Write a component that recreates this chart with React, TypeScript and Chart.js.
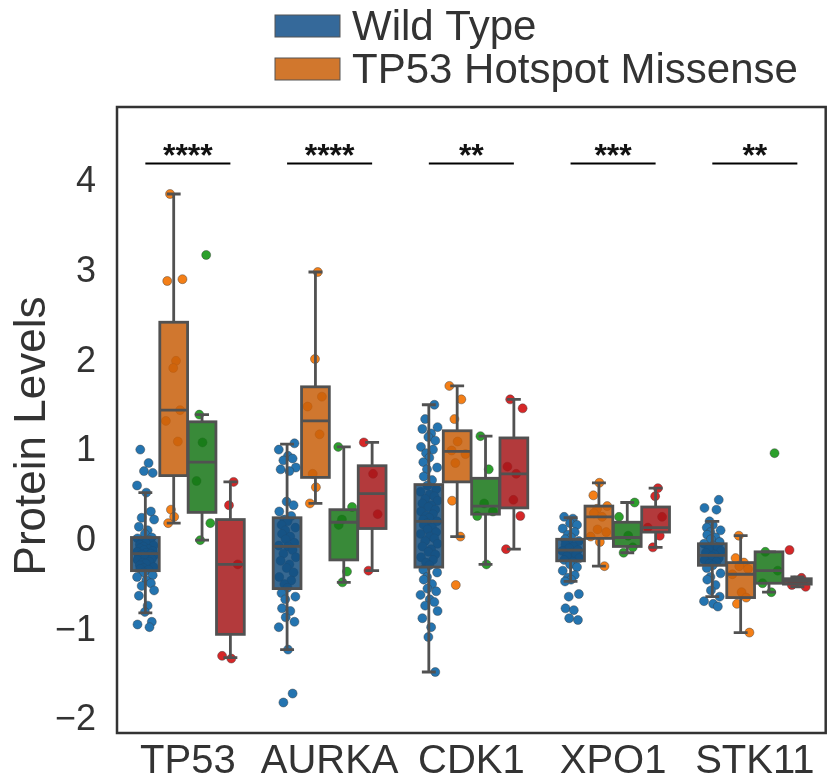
import React, { useEffect, useRef } from 'react';
import { Chart, registerables } from 'chart.js';

Chart.register(...registerables);

// ---------- data ----------
const GENES = ['TP53', 'AURKA', 'CDK1', 'XPO1', 'STK11'];
const LEGEND_LABELS = ['Wild Type', 'TP53 Hotspot Missense'];
const Y_TITLE = 'Protein Levels';
const SIG_LABELS = ['****', '****', '**', '***', '**'];
const SIG_LEVEL = 4.21;
const Y_TICKS = [-2, -1, 0, 1, 2, 3, 4];

// box statistics (per gene): lower whisker, Q1, median, Q3, upper whisker
const WT_LO = [-0.80, -1.21, -1.46, -0.45, -0.62];
const WT_Q1 = [-0.33, -0.53, -0.29, -0.22, -0.27];
const WT_MED = [-0.14, -0.06, 0.22, -0.10, -0.16];
const WT_Q3 = [0.04, 0.26, 0.63, 0.02, -0.03];
const WT_HI = [0.54, 1.08, 1.52, 0.26, 0.22];

const HS_LO = [0.20, 0.42, 0.05, -0.28, -1.02];
const HS_Q1 = [0.73, 0.71, 0.66, 0.03, -0.63];
const HS_MED = [1.46, 1.34, 1.00, 0.27, -0.37];
const HS_Q3 = [2.44, 1.72, 1.23, 0.39, -0.24];
const HS_HI = [3.87, 3.00, 1.73, 0.65, 0.06];

const G3_LO = [0.01, -0.46, -0.26, -0.13, -0.57];
const G3_Q1 = [0.32, -0.21, 0.30, -0.06, -0.47];
const G3_MED = [0.88, 0.21, 0.39, 0.04, -0.33];
const G3_Q3 = [1.33, 0.35, 0.70, 0.21, -0.12];
const G3_HI = [1.41, 1.05, 1.17, 0.43, -0.12];

const G4_LO = [-1.30, -0.33, -0.09, -0.07, -0.51];
const G4_Q1 = [-1.04, 0.14, 0.37, 0.10, -0.48];
const G4_MED = [-0.26, 0.53, 0.75, 0.15, -0.45];
const G4_Q3 = [0.24, 0.84, 1.15, 0.38, -0.42];
const G4_HI = [0.66, 1.10, 1.58, 0.59, -0.40];

// individual samples (per gene)
const WT_POINTS = [
  [1.02, 0.87, 0.78, 0.76, 0.62, 0.54, 0.33, 0.26, 0.24, 0.16, 0.12, 0.08, 0.04, 0.03, 0.01, -0.01, -0.02,
    -0.04, -0.05, -0.06, -0.08, -0.09, -0.10, -0.11, -0.12, -0.13, -0.14, -0.15, -0.16, -0.17, -0.18, -0.19,
    -0.20, -0.21, -0.23, -0.24, -0.25, -0.27, -0.29, -0.30, -0.31, -0.32, -0.35, -0.38, -0.40, -0.44, -0.47,
    -0.50, -0.55, -0.61, -0.72, -0.79, -0.90, -0.93, -0.96],
  [1.09, 1.02, 0.95, 0.92, 0.90, 0.82, 0.80, 0.78, 0.44, 0.40, 0.33, 0.28, 0.24, 0.22, 0.18, 0.15, 0.12,
    0.08, 0.05, 0.02, -0.02, -0.05, -0.06, -0.10, -0.14, -0.18, -0.22, -0.26, -0.30, -0.35, -0.40, -0.44,
    -0.48, -0.52, -0.58, -0.62, -0.65, -0.75, -0.78, -0.85, -0.90, -0.96, -1.21, -1.70, -1.80],
  [1.52, 1.36, 1.27, 1.25, 1.20, 1.16, 1.12, 1.05, 1.02, 0.98, 0.93, 0.88, 0.82, 0.80, 0.72, 0.68, 0.62,
    0.58, 0.55, 0.52, 0.50, 0.47, 0.45, 0.42, 0.40, 0.38, 0.35, 0.33, 0.30, 0.28, 0.26, 0.24, 0.22, 0.20,
    0.18, 0.15, 0.13, 0.10, 0.08, 0.05, 0.03, 0.00, -0.03, -0.06, -0.09, -0.12, -0.15, -0.18, -0.21, -0.24,
    -0.27, -0.32, -0.35, -0.40, -0.43, -0.48, -0.53, -0.56, -0.60, -0.65, -0.68, -0.72, -0.78, -0.86, -0.96,
    -1.07, -1.46],
  [0.27, 0.25, 0.20, 0.18, 0.14, 0.10, 0.07, 0.04, 0.02, 0.00, -0.02, -0.04, -0.06, -0.08, -0.10, -0.11,
    -0.13, -0.15, -0.17, -0.19, -0.21, -0.23, -0.26, -0.29, -0.33, -0.38, -0.41, -0.43, -0.45, -0.59, -0.62,
    -0.75, -0.77, -0.86, -0.88],
  [0.46, 0.37, 0.35, 0.22, 0.18, 0.15, 0.12, 0.10, 0.07, 0.04, 0.02, -0.01, -0.03, -0.05, -0.07, -0.09,
    -0.11, -0.13, -0.15, -0.17, -0.19, -0.21, -0.23, -0.25, -0.27, -0.30, -0.36, -0.40, -0.43, -0.49, -0.55,
    -0.62, -0.67, -0.70, -0.73],
];
const HS_POINTS = [
  [3.87, 2.92, 2.90, 2.01, 1.93, 1.46, 1.34, 1.11, 0.35, 0.27, 0.20],
  [3.00, 2.03, 1.61, 1.50, 1.19, 0.75, 0.60, 0.42],
  [1.73, 1.58, 1.36, 1.11, 1.01, 0.97, 0.87, 0.45, 0.05, -0.49],
  [0.65, 0.51, 0.39, 0.36, 0.31, 0.27, 0.13, 0.10, 0.05, -0.01, -0.28],
  [0.06, -0.19, -0.24, -0.28, -0.31, -0.37, -0.57, -0.63, -0.70, -1.02],
];
const G3_POINTS = [
  [3.19, 1.41, 1.10, 0.67, 0.20, 0.01],
  [1.05, 0.38, 0.24, 0.18, -0.34, -0.46],
  [1.17, 0.80, 0.42, 0.33, 0.28, -0.26],
  [0.43, 0.27, 0.06, -0.07, -0.13],
  [0.98, -0.12, -0.33, -0.47, -0.57],
];
const G4_POINTS = [
  [0.66, 0.40, -0.26, -1.28, -1.31],
  [1.10, 0.75, 0.30, -0.33],
  [1.58, 1.48, 0.83, 0.75, 0.46, 0.28, -0.09],
  [0.59, 0.50, 0.27, 0.15, 0.06, -0.07],
  [-0.10, -0.41, -0.44, -0.46, -0.49, -0.51],
];

// ---------- styles ----------
const OFFSETS = [-0.3, -0.1, 0.1, 0.3];
const BOX_W = 0.196;
const JITTER_W = 0.065;
const JITTER = [-0.55, 0.35, -0.15, 0.8, -0.9, 0.1, 0.6, -0.4, 0.95, -0.7, 0.25, -0.05, 0.7, -0.85, 0.45, -0.3, 0.05, -0.6, 0.9, -0.2];
const BOX_FILL = ['rgba(20,78,126,0.85)', 'rgba(200,95,10,0.85)', 'rgba(22,118,22,0.85)', 'rgba(166,24,26,0.85)'];
const POINT_FILL = ['#2474b0', '#f47f17', '#2ca02c', '#d62728'];
const LEGEND_FILL = ['#35699a', '#d1772d'];
const LINE_COLOR = '#515151';
const TEXT_COLOR = '#333333';
const FONT = '"Liberation Sans", Arial, Helvetica, sans-serif';

const GROUP_STATS = [
  [WT_LO, WT_Q1, WT_MED, WT_Q3, WT_HI],
  [HS_LO, HS_Q1, HS_MED, HS_Q3, HS_HI],
  [G3_LO, G3_Q1, G3_MED, G3_Q3, G3_HI],
  [G4_LO, G4_Q1, G4_MED, G4_Q3, G4_HI],
];
const GROUP_POINTS = [WT_POINTS, HS_POINTS, G3_POINTS, G4_POINTS];

const boxPlugin = {
  id: 'boxes',
  afterDatasetsDraw(chart: any) {
    const { ctx, scales } = chart;
    const x = scales.x;
    const y = scales.y;
    const unit = x.getPixelForValue(1) - x.getPixelForValue(0);
    const half = (BOX_W * unit) / 2;
    const capHalf = half / 2;
    ctx.save();
    GROUP_STATS.forEach((stats, gi) => {
      const [lo, q1, med, q3, hi] = stats;
      GENES.forEach((_, ci) => {
        const cx = x.getPixelForValue(ci + OFFSETS[gi]);
        const pLo = y.getPixelForValue(lo[ci]);
        const pQ1 = y.getPixelForValue(q1[ci]);
        const pMed = y.getPixelForValue(med[ci]);
        const pQ3 = y.getPixelForValue(q3[ci]);
        const pHi = y.getPixelForValue(hi[ci]);
        ctx.fillStyle = BOX_FILL[gi];
        ctx.fillRect(cx - half, pQ3, 2 * half, pQ1 - pQ3);
        ctx.strokeStyle = LINE_COLOR;
        ctx.lineWidth = 2.8;
        ctx.lineCap = 'butt';
        ctx.strokeRect(cx - half, pQ3, 2 * half, pQ1 - pQ3);
        ctx.beginPath();
        ctx.moveTo(cx - half, pMed);
        ctx.lineTo(cx + half, pMed);
        ctx.moveTo(cx, pQ3);
        ctx.lineTo(cx, pHi);
        ctx.moveTo(cx, pQ1);
        ctx.lineTo(cx, pLo);
        ctx.moveTo(cx - capHalf, pHi);
        ctx.lineTo(cx + capHalf, pHi);
        ctx.moveTo(cx - capHalf, pLo);
        ctx.lineTo(cx + capHalf, pLo);
        ctx.stroke();
      });
    });
    ctx.restore();
  },
  afterDraw(chart: any) {
    const { ctx, scales, chartArea } = chart;
    const x = scales.x;
    const y = scales.y;
    ctx.save();
    // frame
    ctx.strokeStyle = '#333333';
    ctx.lineWidth = 2.5;
    ctx.strokeRect(chartArea.left, chartArea.top, chartArea.right - chartArea.left, chartArea.bottom - chartArea.top);
    // significance brackets
    const ly = y.getPixelForValue(SIG_LEVEL);
    ctx.strokeStyle = '#000000';
    ctx.lineWidth = 1.8;
    ctx.fillStyle = '#111111';
    ctx.font = `bold 32px ${FONT}`;
    ctx.textAlign = 'center';
    ctx.textBaseline = 'alphabetic';
    SIG_LABELS.forEach((lab, ci) => {
      const x0 = x.getPixelForValue(ci + OFFSETS[0]);
      const x1 = x.getPixelForValue(ci + OFFSETS[3]);
      ctx.beginPath();
      ctx.moveTo(x0, ly);
      ctx.lineTo(x1, ly);
      ctx.stroke();
      ctx.fillText(lab, (x0 + x1) / 2, ly + 2);
    });
    // y-axis title
    ctx.save();
    ctx.translate(33, (chartArea.top + chartArea.bottom) / 2 + 16);
    ctx.rotate(-Math.PI / 2);
    ctx.font = `44px ${FONT}`;
    ctx.fillStyle = TEXT_COLOR;
    ctx.textAlign = 'center';
    ctx.textBaseline = 'middle';
    ctx.fillText(Y_TITLE, 0, 0);
    ctx.restore();
    // legend
    ctx.font = `42px ${FONT}`;
    ctx.textAlign = 'left';
    ctx.textBaseline = 'middle';
    LEGEND_LABELS.forEach((lab, i) => {
      const top = 15 + i * 43;
      ctx.fillStyle = LEGEND_FILL[i];
      ctx.fillRect(275, top, 65, 22);
      ctx.strokeStyle = '#555555';
      ctx.lineWidth = 1;
      ctx.strokeRect(275, top, 65, 22);
      ctx.fillStyle = TEXT_COLOR;
      ctx.fillText(lab, 352, top + 13);
    });
    ctx.restore();
  },
};

export default function App() {
  const ref = useRef<HTMLCanvasElement | null>(null);
  useEffect(() => {
    if (!ref.current) return;
    const datasets = GROUP_POINTS.map((perGene, gi) => ({
      label: gi < LEGEND_LABELS.length ? LEGEND_LABELS[gi] : `group ${gi + 1}`,
      data: perGene.flatMap((vals, ci) =>
        vals.map((v, k) => ({ x: ci + OFFSETS[gi] + JITTER[(k + gi * 7 + ci * 3) % JITTER.length] * JITTER_W, y: v }))
      ),
      backgroundColor: POINT_FILL[gi],
      borderColor: 'rgba(60,60,60,0.55)',
      borderWidth: 0.8,
      pointRadius: 4.5,
    }));
    const chart = new Chart(ref.current, {
      type: 'scatter',
      data: { datasets },
      plugins: [boxPlugin],
      options: {
        animation: false,
        responsive: false,
        layout: { padding: { top: 107, right: 1, left: 0, bottom: 0 } },
        plugins: { legend: { display: false }, tooltip: { enabled: false } },
        scales: {
          x: {
            type: 'linear',
            min: -0.5,
            max: 4.5,
            grid: { display: false, drawTicks: false },
            border: { display: false },
            afterBuildTicks: (s: any) => { s.ticks = GENES.map((_, i) => ({ value: i })); },
            afterFit: (s: any) => { s.height = 49; },
            ticks: {
              padding: 5,
              color: TEXT_COLOR,
              font: { family: FONT, size: 40 },
              callback: (v: any) => GENES[Math.round(Number(v))] ?? '',
            },
          },
          y: {
            type: 'linear',
            min: -2.14,
            max: 4.84,
            grid: { display: false, drawTicks: false },
            border: { display: false },
            afterBuildTicks: (s: any) => { s.ticks = Y_TICKS.map((v) => ({ value: v })); },
            afterFit: (s: any) => { s.width = 117; },
            ticks: {
              padding: 21,
              color: TEXT_COLOR,
              font: { family: FONT, size: 36 },
              callback: (v: any) => (Number(v) < 0 ? '\u2212' + Math.abs(Number(v)) : String(v)),
            },
          },
        },
      },
    });
    return () => chart.destroy();
  }, []);
  return (
    <div style={{ position: 'absolute', left: 0, top: 0, width: 831, height: 782, background: '#ffffff' }}>
      <canvas ref={ref} width={831} height={782} />
    </div>
  );
}
